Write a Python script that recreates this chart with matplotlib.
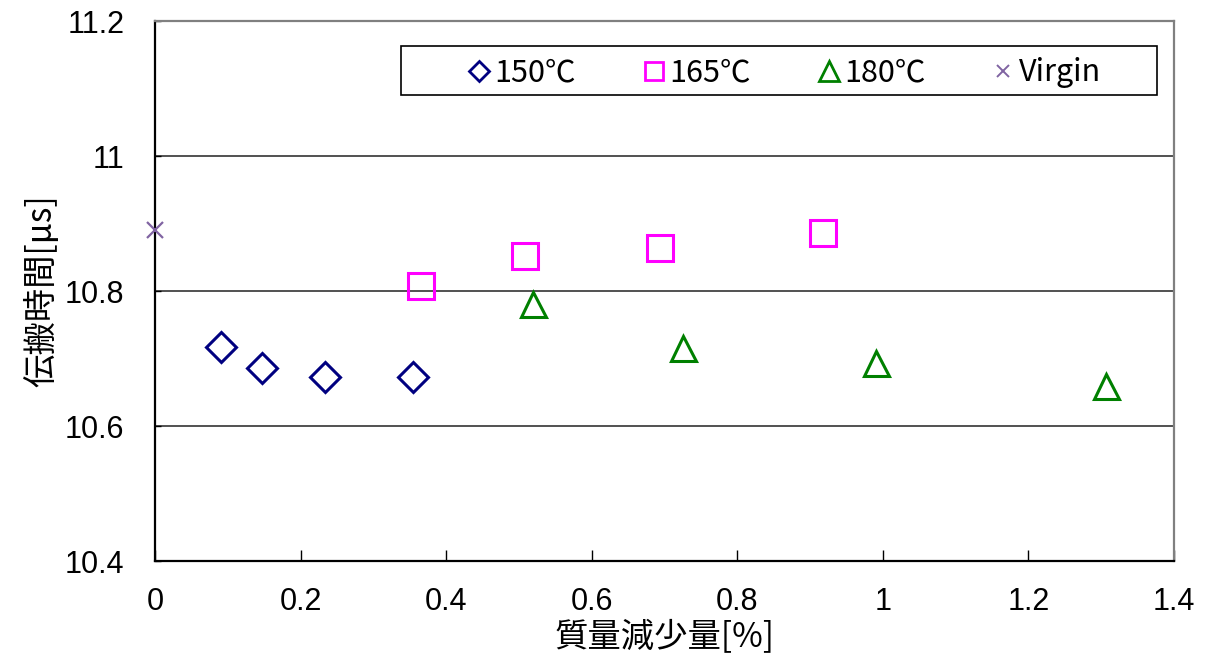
import matplotlib as mpl
mpl.use('Agg')
import matplotlib.pyplot as plt
from matplotlib.patches import Rectangle
from matplotlib.lines import Line2D

plt.rcParams['font.family'] = ['Noto Sans CJK JP', 'DejaVu Sans']

# mass loss [%] vs. propagation time [us]
loss_150 = [0.090, 0.147, 0.233, 0.354]
time_150 = [10.717, 10.686, 10.672, 10.672]
loss_165 = [0.365, 0.509, 0.694, 0.918]
time_165 = [10.808, 10.852, 10.864, 10.886]
loss_180 = [0.520, 0.725, 0.990, 1.306]
time_180 = [10.781, 10.715, 10.693, 10.659]
loss_virgin = [0.0]
time_virgin = [10.890]

labels = ['150℃', '165℃', '180℃', 'Virgin']
xticks = [0, 0.2, 0.4, 0.6, 0.8, 1, 1.2, 1.4]
xticklabels = ['0', '0.2', '0.4', '0.6', '0.8', '1', '1.2', '1.4']
yticks = [10.4, 10.6, 10.8, 11.0, 11.2]
yticklabels = ['10.4', '10.6', '10.8', '11', '11.2']

navy = '#000080'
magenta = '#FF00FF'
green = '#008000'
purple = '#8064A2'

fig = plt.figure(figsize=(12.05, 6.62), dpi=100)
ax = fig.add_axes([155 / 1205, 101 / 662, 1019 / 1205, 540 / 662])

ax.set_xlim(0, 1.4)
ax.set_ylim(10.4, 11.2)

ax.plot(loss_150, time_150, ls='none', marker='D', ms=15, mfc='none', mec=navy, mew=2.2, clip_on=False)
ax.plot(loss_165, time_165, ls='none', marker='s', ms=18.5, mfc='none', mec=magenta, mew=2.2, clip_on=False)
ax.plot(loss_180, time_180, ls='none', marker='^', ms=18, mfc='none', mec=green, mew=2.2, clip_on=False)
ax.plot(loss_virgin, time_virgin, ls='none', marker='x', ms=12, mec=purple, mew=1.6, clip_on=False, zorder=5)

for y in yticks[1:-1]:
    ax.axhline(y, color='#333333', lw=1.2, zorder=0)

ax.set_xticks(xticks)
ax.set_xticklabels(xticklabels, family=['Liberation Sans'])
ax.set_yticks(yticks)
ax.set_yticklabels(yticklabels, family=['Liberation Sans'])
ax.tick_params(axis='x', direction='in', length=8, width=1, pad=19, labelsize=22, color='black')
ax.tick_params(axis='y', direction='in', length=4, width=1, pad=22, labelsize=22)

for s in ['left', 'bottom']:
    ax.spines[s].set_color('black')
    ax.spines[s].set_linewidth(1.6)
for s in ['top', 'right']:
    ax.spines[s].set_color('#808080')
    ax.spines[s].set_linewidth(1.6)

ax.set_xlabel('質量減少量[%]', fontsize=24, labelpad=2)
ax.set_ylabel('伝搬時間[μs]', fontsize=24, labelpad=4)

# legend box
x0 = (401 - 155) / 1019
y0 = (561 - 95) / 540
ax.add_patch(Rectangle((x0, y0), 756 / 1019, 49 / 540, transform=ax.transAxes,
                       fill=False, ec='black', lw=1.2, zorder=6))

handles = [
    Line2D([], [], ls='none', marker='D', ms=10, mfc='none', mec=navy, mew=2),
    Line2D([], [], ls='none', marker='s', ms=13, mfc='none', mec=magenta, mew=2),
    Line2D([], [], ls='none', marker='^', ms=14, mfc='none', mec=green, mew=2),
    Line2D([], [], ls='none', marker='x', ms=9, mec=purple, mew=1.4),
]
ax.legend(handles, labels, ncol=4, loc='center', bbox_to_anchor=(0.618, (561 - 73) / 540),
          frameon=False, fontsize=22, handlelength=0.7, handletextpad=0.15,
          columnspacing=2.2, borderaxespad=0)

fig.savefig('out.png', dpi=100, facecolor='white')
